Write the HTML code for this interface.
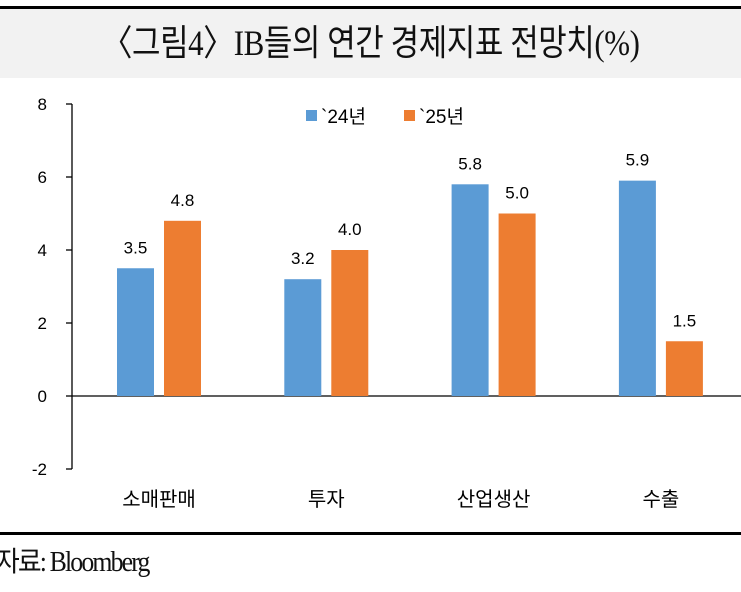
<!DOCTYPE html>
<html><head><meta charset="utf-8"><style>
body{margin:0;width:741px;height:592px;background:#fff;overflow:hidden;position:relative;font-family:"Liberation Sans","Noto Sans CJK KR",sans-serif}
#topline{position:absolute;left:0;top:6px;width:741px;height:3px;background:#000}
#band{position:absolute;left:0;top:9px;width:741px;height:69px;background:#f2f2f2}
#title{position:absolute;left:0;top:14px;width:741px;text-align:center;font-family:"Liberation Serif","Noto Sans CJK KR",serif;font-size:36px;color:#111;transform:scaleX(0.86);letter-spacing:-0.5px;white-space:nowrap}
#botline{position:absolute;left:0;top:532px;width:741px;height:3px;background:#000}
#source{position:absolute;left:-4px;top:540px;font-family:"Liberation Serif","Noto Sans CJK KR",serif;font-size:28px;letter-spacing:-2px;color:#111;transform:scaleX(0.92);transform-origin:left}
svg{position:absolute;left:0;top:0}
</style></head><body>
<div id="topline"></div>
<div id="band"></div>
<div id="title">〈그림4〉IB들의 연간 경제지표 전망치(%)</div>
<svg id="chart" width="741" height="532"></svg>
<div id="botline"></div>
<div id="source">자료: Bloomberg</div>
<script>
const categories=["소매판매","투자","산업생산","수출"];
const series24=[3.5,3.2,5.8,5.9];
const series25=[4.8,4.0,5.0,1.5];
const yTicks=[-2,0,2,4,6,8];
const seriesNames=["`24년","`25년"];
const colors=["#5b9bd5","#ed7d31"];
const svg=document.getElementById('chart');
const NS='http://www.w3.org/2000/svg';
const y0=396,unit=36.5,axisX=72;
function y(v){return y0-v*unit;}
function x(i){return 159+i*167.3;}
function mk(t,a,txt){const e=document.createElementNS(NS,t);for(const k in a)e.setAttribute(k,a[k]);if(txt!=null)e.textContent=txt;svg.appendChild(e);return e;}
let e=mk('line',{x1:axisX,y1:y(8),x2:axisX,y2:y(-2),stroke:'#000','stroke-width':1.3});


yTicks.forEach(t=>{
 let l=mk('line',{x1:axisX-6,y1:y(t),x2:axisX,y2:y(t),stroke:'#000','stroke-width':1.3});
 
 
 let tx=mk('text',{x:47,y:y(t)+6,'text-anchor':'end','font-size':17,fill:'#000'},String(t));
 
 
});
e=mk('line',{x1:axisX,y1:y0,x2:741,y2:y0,stroke:'#000','stroke-width':1.3});


const bw=37,gap=10;
[series24,series25].forEach((s,si)=>{
 s.forEach((v,i)=>{
  const bx=si===0?x(i)-gap/2-bw:x(i)+gap/2;
  let r=mk('rect',{x:bx,y:Math.min(y(v),y0),width:bw,height:Math.abs(y(v)-y0),fill:colors[si]});
  
  
  let t=mk('text',{x:bx+bw/2,y:y(v)-15,'text-anchor':'middle','font-size':17,fill:'#000'},v.toFixed(1));
  
  
 });
});
categories.forEach((c,i)=>{
 let t=mk('text',{x:x(i),y:506,'text-anchor':'middle','font-size':20,fill:'#000'},c);
 
 
});
seriesNames.forEach((n,i)=>{
 const lx=306+i*98;
 let r=mk('rect',{x:lx,y:110,width:11,height:11,fill:colors[i]});
 
 
 let t=mk('text',{x:lx+15,y:123,'font-size':19,fill:'#000'},n);
 
 
});
</script>
</body></html>
